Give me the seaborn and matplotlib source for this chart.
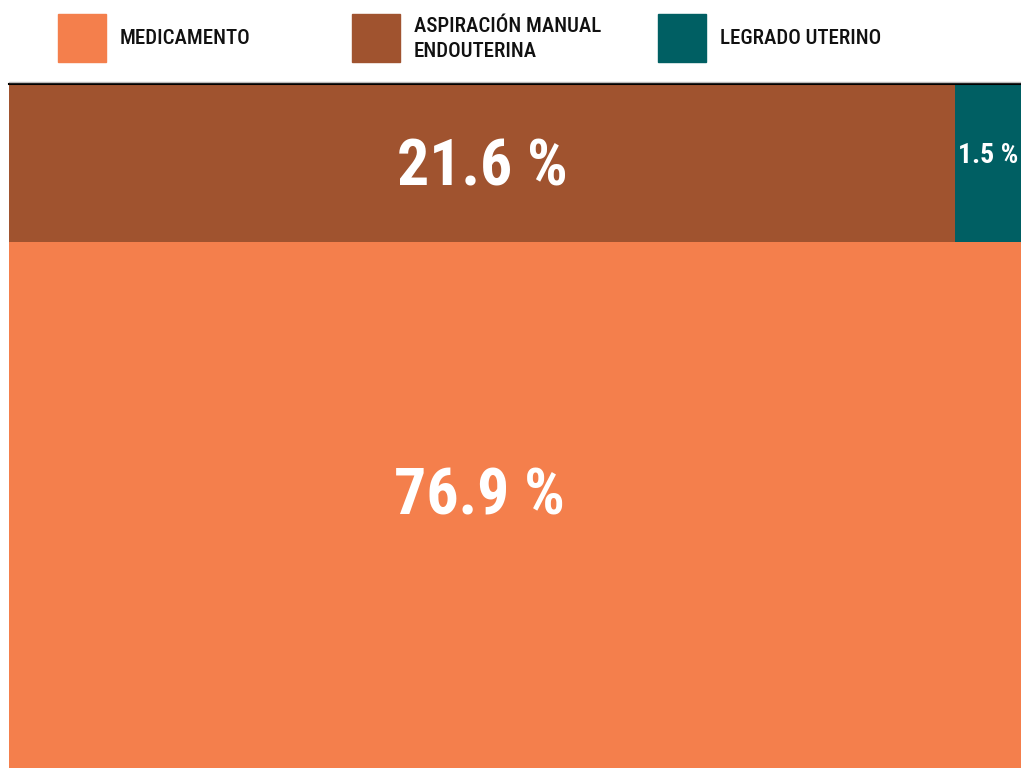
import matplotlib
matplotlib.use("Agg")
import matplotlib.pyplot as plt
import seaborn as sns
from matplotlib.patches import Rectangle

sns.set_theme(style="white")
plt.rcParams["font.family"] = ["Roboto Condensed", "DejaVu Sans"]
plt.rcParams["font.stretch"] = "condensed"

# data
categories = ["MEDICAMENTO", "ASPIRACIÓN MANUAL\nENDOUTERINA", "LEGRADO UTERINO"]
shares = [76.9, 21.6, 1.5]
labels = ["76.9 %", "21.6 %", "1.5 %"]
colors = ["#F47F4C", "#A0532F", "#005F63"]

fig = plt.figure(figsize=(10.21, 7.68), dpi=100)
ax = fig.add_axes([9 / 1021, 0, 1012 / 1021, 684 / 768])

total = sum(shares)
# bottom block: full width, height proportional to its share
h0 = shares[0] / total * 100
ax.bar(0, h0, width=100, bottom=0, align="edge", color=colors[0], linewidth=0)
ax.text(46.5, h0 / 2 + 1.2, labels[0], color="white", fontsize=46, fontweight="bold",
        ha="center", va="center")

# top row: remaining shares split horizontally
top_h = 100 - h0
x = 0
for val, col, lab in zip(shares[1:], colors[1:], labels[1:]):
    w = val / sum(shares[1:]) * 100
    ax.bar(x, top_h, width=w, bottom=h0, align="edge", color=col, linewidth=0)
    if w < 20:
        ax.text(x + 0.25, h0 + top_h * 0.55, lab, color="white", fontsize=20,
                fontweight="bold", ha="left", va="center")
    else:
        ax.text(x + w / 2, h0 + top_h * 0.47, lab, color="white", fontsize=46,
                fontweight="bold", ha="center", va="center")
    x += w

ax.set_xlim(0, 100)
ax.set_ylim(0, 100)
ax.set_xticks([])
ax.set_yticks([])
for s in ["left", "right", "bottom"]:
    ax.spines[s].set_visible(False)
ax.spines["top"].set_color("black")
ax.spines["top"].set_linewidth(1.5)
# faint grey rule just above the black one
fig.add_artist(plt.Line2D([9 / 1021, 1], [1 - 82 / 768] * 2, color="#bbbbbb",
                          linewidth=1, transform=fig.transFigure))

# legend across the top
leg_x = [58, 352, 658]
for lx, cat, col in zip(leg_x, categories, colors):
    fig.patches.append(Rectangle((lx / 1021, 1 - 62 / 768), 48 / 1021, 48 / 768,
                                 transform=fig.transFigure, color=col, figure=fig))
    fig.text((lx + 62) / 1021, 1 - 39 / 768, cat, fontsize=15, fontweight="medium",
             color="#111111", ha="left", va="center", linespacing=1.45)

fig.savefig("out.png", dpi=100)
